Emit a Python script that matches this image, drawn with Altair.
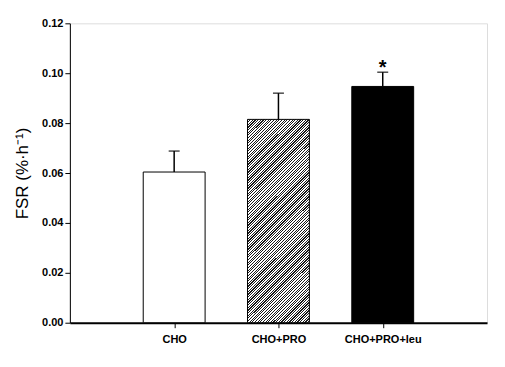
import altair as alt
import pandas as pd

groups = ["CHO", "CHO+PRO", "CHO+PRO+leu"]
means = [0.0604, 0.0815, 0.0947]
sems = [0.0084, 0.0105, 0.0057]
stars = ["", "", "*"]

df = pd.DataFrame({"group": groups, "mean": means, "sem": sems, "star": stars})
df["top"] = df["mean"] + df["sem"]

# diagonal hatch as a hard-stop gradient
n = 100
stops = []
for i in range(n):
    a = i / n
    b = (i + 0.45) / n
    c = (i + 1) / n
    stops += [{"offset": a, "color": "#1a1a1a"}, {"offset": b, "color": "#1a1a1a"},
              {"offset": b, "color": "#ffffff"}, {"offset": c, "color": "#ffffff"}]
hatch = {"gradient": "linear", "x1": 0, "y1": 0, "x2": 0.363, "y2": 1.194, "stops": stops}

FONT = "Liberation Sans"

x = alt.X("group:N", sort=groups, scale=alt.Scale(type="point", padding=1),
          axis=alt.Axis(title=None, labelAngle=0, labelFontWeight="bold", labelFontSize=11,
                        labelFont=FONT, labelColor="black", tickSize=5, tickColor="black",
                        domainColor="black", domainWidth=2, labelPadding=6))
y = alt.Y("mean:Q", scale=alt.Scale(domain=[0, 0.12], nice=False),
          axis=alt.Axis(title="FSR (%·h⁻¹)", values=[0, 0.02, 0.04, 0.06, 0.08, 0.10, 0.12],
                        format=".2f", grid=False, labelFontWeight="bold", labelFontSize=11,
                        labelFont=FONT, labelColor="black", tickSize=5, tickColor="black",
                        domainColor="black", titleFont=FONT, titleFontSize=17,
                        titleFontWeight="normal", titleColor="black", titlePadding=10))

base = alt.Chart(df)

fills = ["white", hatch, "black"]
bars = []
for g, f in zip(groups, fills):
    bars.append(base.transform_filter(alt.datum.group == g)
                .mark_bar(size=62, fill=f, stroke="black", strokeWidth=1)
                .encode(x=x, y=y))

err = base.mark_rule(color="black", strokeWidth=1.5).encode(
    x=x, y=alt.Y("mean:Q"), y2="top:Q")
cap = base.mark_tick(color="black", thickness=1.5, size=11, orient="horizontal").encode(
    x=x, y=alt.Y("top:Q"))
star = base.mark_text(fontSize=20, fontWeight="bold", font=FONT, dy=2, baseline="alphabetic",
                      color="black").encode(x=x, y=alt.Y("top:Q"), text="star:N")

chart = alt.layer(*bars, err, cap, star).properties(
    width=418, height=300,
    autosize=alt.AutoSizeParams(type="none"),
    padding={"left": 62, "top": 15, "right": 10, "bottom": 30},
).configure_view(stroke=None).configure(background="white")

chart.save("out.html", embed_options={"renderer": "svg", "actions": False})
